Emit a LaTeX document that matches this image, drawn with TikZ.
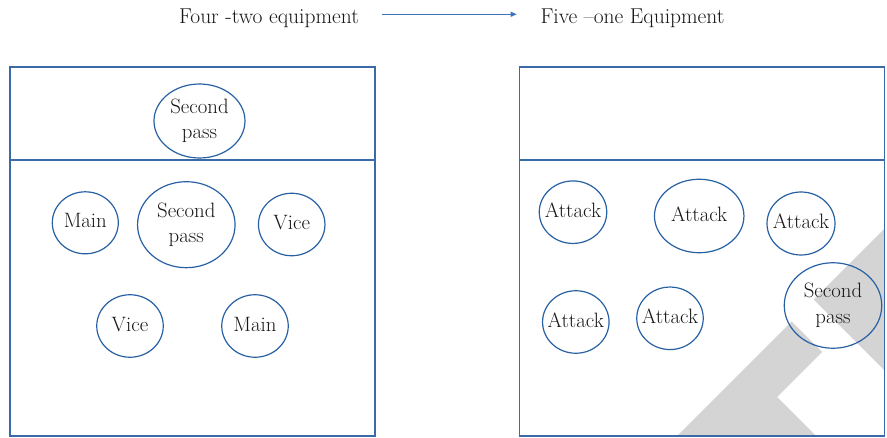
\documentclass[tikz,border=0pt]{standalone}
\usepackage{fontspec}
\usetikzlibrary{shapes.geometric,arrows.meta}
\definecolor{eblue}{RGB}{40,96,164}
\definecolor{fblue}{RGB}{58,106,168}
\definecolor{ablue}{RGB}{62,115,190}
\definecolor{wm}{RGB}{212,212,212}
\definecolor{txt}{RGB}{25,22,23}
\newcommand\plabel[1]{\makebox[0pt]{\begin{tabular}{@{}c@{}}#1\end{tabular}}}
\begin{document}
\begin{tikzpicture}[x=1pt,y=-1pt,
  every node/.style={text=txt, font=\fontsize{20.8}{25.5}\selectfont},
  title/.style={font=\fontsize{21.5}{25.5}\selectfont},
  player/.style={draw=eblue, line width=1.2pt, ellipse, inner sep=0pt},
  smallp/.style={player, minimum width=66.5pt, minimum height=62.5pt},
  frame/.style={draw=fblue, line width=1.2pt},
  divider/.style={draw=fblue, line width=1.8pt},
  arr/.style={draw=ablue, line width=1.1pt, -{Triangle[length=6pt,width=5pt]}}
]
\useasboundingbox (0,0) rectangle (887,438);
% watermark
\fill[wm] (813.5,299.5) -- (884.5,228.5) -- (884.5,370.5) -- cycle;
\fill[wm] (791.5,321.5) -- (822,352) -- (777,397) -- (816,436) -- (677,436) -- cycle;
% frames
\draw[frame] (10,67) rectangle (375,436);
\draw[divider] (10,160) -- (375,160);
\draw[frame] (519.5,67) rectangle (884.5,436);
\draw[divider] (519.5,160) -- (884.5,160);
% title
\node[title, anchor=base] (t1) at (269,23.5) {Four -two equipment};
\node[title, anchor=base] (t2) at (632.5,23.5) {Five --one Equipment};
\coordinate (a1) at (381.7,14.3);
\coordinate (a2) at (516.7,14.3);
\draw[arr] (a1) -- (a2);
% left formation
\node[player, minimum width=91pt, minimum height=74pt] (lsp) at (199.5,121) {\plabel{Second\\pass}};
\node[smallp, minimum width=66pt, minimum height=62pt] (lm1) at (85.3,222.8) {\plabel{Main}};
\node[player, minimum width=97.5pt, minimum height=86pt] (lsp2) at (186.3,224.7) {\plabel{Second\\pass}};
\node[smallp] (lv1) at (291.7,224.5) {\plabel{Vice}};
\node[smallp] (lv2) at (130,326) {\plabel{Vice}};
\node[smallp] (lm2) at (255,326) {\plabel{Main}};
% right formation
\node[smallp, minimum width=67.5pt] (ra1) at (573,212.2) {\plabel{Attack}};
\node[player, minimum width=89.5pt, minimum height=73.5pt] (ra2) at (699.2,216) {\plabel{Attack}};
\node[smallp, minimum width=68pt, minimum height=63pt] (ra3) at (801,223.5) {\plabel{Attack}};
\node[smallp] (ra4) at (575.8,322) {\plabel{Attack}};
\node[smallp] (ra5) at (670,318.3) {\plabel{Attack}};
\node[player, minimum width=97.5pt, minimum height=85.5pt] (rsp) at (833,305.5) {\plabel{Second\\pass}};
\end{tikzpicture}
\end{document}
